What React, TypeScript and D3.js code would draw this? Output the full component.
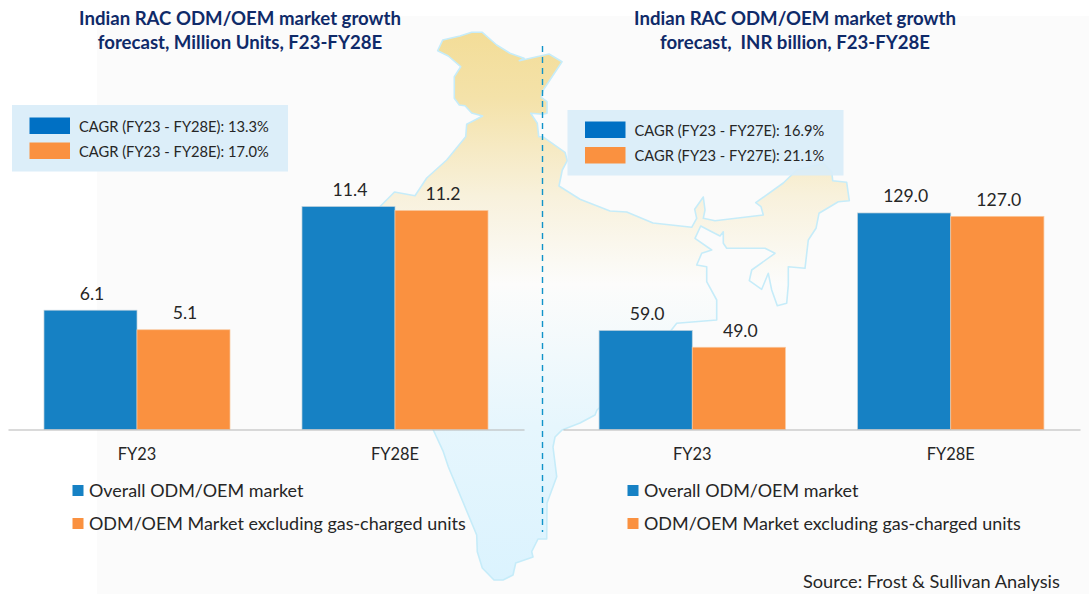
import React, { useEffect, useRef } from "react";
import * as d3 from "d3";

const WIDTH = 1089;
const HEIGHT = 594;
const BASELINE = 429.5;

const categories = ["FY23", "FY28E"];
const seriesNames = ["Overall ODM/OEM market", "ODM/OEM Market excluding gas-charged units"];
const seriesColors = ["#1681c4", "#fa9140"];
const cagrColors = ["#0070c4", "#fa9140"];

const unitsOverall = [6.1, 11.4];
const unitsExGas = [5.1, 11.2];
const inrOverall = [59.0, 129.0];
const inrExGas = [49.0, 127.0];

const unitsCagr = ["CAGR (FY23 - FY28E): 13.3%", "CAGR (FY23 - FY28E): 17.0%"];
const inrCagr = ["CAGR (FY23 - FY27E): 16.9%", "CAGR (FY23 - FY27E): 21.1%"];

const unitsTitle = ["Indian RAC ODM/OEM market growth", "forecast, Million Units, F23-FY28E"];
const inrTitle = ["Indian RAC ODM/OEM market growth", "forecast,  INR billion, F23-FY28E"];

// outline of the background map
const mapOutline: [number, number][] = [
  [437.7, 50.7], [442.7, 40], [460, 36], [471.7, 32.3], [482.3, 32.3], [496.7, 45], [510, 53.3], [524, 58.3],
  [519.3, 60.7], [549, 54], [562, 61.7], [543.3, 90], [541.3, 97.3], [547, 101.7], [547, 113.3], [542.7, 114.3],
  [530.7, 113.3], [537.3, 123.3], [538.7, 136.7], [542.7, 136.7], [565, 152.3], [567.3, 160.7], [562.3, 170],
  [559, 186], [580, 199.3], [610, 211], [626.7, 212], [653, 223], [691.7, 227.3], [696.7, 218.3], [694.7, 209.3],
  [703.3, 197], [705, 210], [703.3, 218.3], [715, 220.7], [763.3, 215], [761, 206.7], [755.7, 202.7], [783.3, 183],
  [796.7, 170], [810, 166.7], [823.3, 163.3], [831.7, 171.7], [832.7, 180.7], [846.7, 182.3], [849.3, 200.7],
  [838.3, 201.7], [819, 213.3], [816, 228.3], [808.3, 240], [805, 268.3], [788.3, 266.7], [788.3, 285], [786.7, 303.3],
  [777.3, 305.7], [771.7, 290], [768.3, 273.3], [761.7, 289.3], [749.3, 280.7], [751.7, 270], [775, 253.3],
  [765, 248.3], [726.7, 248.3], [723.3, 243.3], [723.3, 231.7], [720, 236], [711.7, 231.7], [700.7, 226], [695, 238.3],
  [711.7, 250], [701.7, 253.3], [696.7, 265], [706.7, 266.7], [706.7, 281.7], [716.7, 300], [716.7, 320], [676.7, 323.3],
  [640, 370], [597, 410], [595, 415], [580, 423], [562, 430], [555, 437], [553, 447], [556.7, 476.7], [547, 503],
  [546.7, 539], [538, 539], [531.7, 551.7], [533, 557], [515.7, 563], [513, 575], [503, 580], [494, 580], [482.3, 568],
  [477.3, 551.7], [476.7, 535], [448.3, 466.7], [443.3, 451.7], [433.3, 430], [410, 380], [395, 320], [360, 240],
  [380.6, 206], [394.5, 192], [415, 195.7], [426.7, 178], [446.7, 160], [465.7, 136.7], [466.7, 124.3], [482.7, 116],
  [471.7, 113], [465, 105.7], [459.3, 105], [454.3, 98.3], [454.3, 76.7], [460.7, 66.7], [448.3, 56],
];

const FONT = "Lato, 'Open Sans', sans-serif";

const App = () => {
  const ref = useRef<SVGSVGElement>(null);

  useEffect(() => {
    const svg = d3.select(ref.current);
    svg.selectAll("*").remove();

    const defs = svg.append("defs");
    const grad = defs.append("linearGradient")
      .attr("id", "mapFill")
      .attr("gradientUnits", "userSpaceOnUse")
      .attr("x1", 0).attr("x2", 0).attr("y1", 32).attr("y2", 580);
    [[0, "#f3dd98"], [0.12, "#f4e2a9"], [0.3, "#f8f1dc"], [0.46, "#fcfcfb"], [0.72, "#e6f6fd"], [1, "#dbf3fe"]]
      .forEach(([o, c]) => grad.append("stop").attr("offset", o as number).attr("stop-color", c as string));

    svg.append("rect").attr("width", WIDTH).attr("height", HEIGHT).attr("fill", "#ffffff");
    svg.append("rect")
      .attr("x", 97).attr("y", 16).attr("width", WIDTH - 97).attr("height", HEIGHT - 16)
      .attr("fill", "#fbfbfb");

    svg.append("path")
      .attr("d", d3.line().curve(d3.curveLinearClosed)(mapOutline))
      .attr("fill", "url(#mapFill)")
      .attr("stroke", "#c6ecf9")
      .attr("stroke-width", 1.6)
      .attr("stroke-linejoin", "round");

    svg.append("line")
      .attr("x1", 542.5).attr("x2", 542.5).attr("y1", 46).attr("y2", 532)
      .attr("stroke", "#1093c9")
      .attr("stroke-width", 1.4)
      .attr("stroke-dasharray", "6 5");

    const drawPanel = (opts: any) => {
      const { left, right, values, maxValue, maxHeight, titles, titleX, cagr, boxX, boxY, boxH, swatchYs, fmt } = opts;
      const g = svg.append("g");

      const x = d3.scaleBand().domain(categories).range([left, right]).paddingInner(0.279).paddingOuter(0.1395);
      const inner = d3.scaleBand().domain(seriesNames).range([0, x.bandwidth()]);
      const y = d3.scaleLinear().domain([0, maxValue]).range([BASELINE, BASELINE - maxHeight]);

      // titles
      g.selectAll(".title").data(titles).enter().append("text")
        .attr("x", titleX)
        .attr("y", (d, i) => 25 + i * 24)
        .attr("text-anchor", "middle")
        .attr("font-family", FONT)
        .attr("font-weight", 700)
        .attr("font-size", 18.6)
        .attr("fill", "#0f2a69")
        .style("white-space", "pre")
        .text((d: any) => d);

      // CAGR box
      g.append("rect")
        .attr("x", boxX).attr("y", boxY).attr("width", 276).attr("height", boxH)
        .attr("fill", "#d9edf9").attr("fill-opacity", 0.92);
      cagr.forEach((t: string, i: number) => {
        g.append("rect")
          .attr("x", boxX + 17.5).attr("y", swatchYs[i]).attr("width", 40.5).attr("height", 16.5)
          .attr("fill", cagrColors[i]);
        g.append("text")
          .attr("x", boxX + 67).attr("y", swatchYs[i] + 14)
          .attr("font-family", FONT).attr("font-size", 14.7).attr("fill", "#262626")
          .text(t);
      });

      // bars
      seriesNames.forEach((name, s) => {
        g.selectAll(".bar" + s).data(values[s]).enter().append("rect")
          .attr("x", (d, i) => x(categories[i])! + inner(name)!)
          .attr("y", (d: any) => y(d))
          .attr("width", inner.bandwidth())
          .attr("height", (d: any) => BASELINE - y(d))
          .attr("fill", seriesColors[s])
          .attr("stroke", s === 0 ? "#bcd0dc" : "#f9c9a0")
          .attr("stroke-width", 0.7);

        g.selectAll(".lab" + s).data(values[s]).enter().append("text")
          .attr("x", (d, i) => x(categories[i])! + inner(name)! + inner.bandwidth() / 2 + 1.5)
          .attr("y", (d: any) => y(d) - 10.5)
          .attr("text-anchor", "middle")
          .attr("font-family", FONT).attr("font-size", 17.6).attr("fill", "#262626")
          .text((d: any) => fmt(d));
      });

      // category axis
      const axis = g.append("g")
        .attr("transform", `translate(0,${BASELINE})`)
        .call(d3.axisBottom(x).tickSize(0).tickSizeOuter(0).tickPadding(19));
      axis.select(".domain").attr("stroke", "#b5b5b5").attr("stroke-width", 1.2);
      axis.selectAll("text")
        .attr("font-family", FONT).attr("font-size", 16.4).attr("fill", "#262626");

      // legend
      seriesNames.forEach((name, i) => {
        g.append("rect")
          .attr("x", left + 64.5).attr("y", 485 + i * 33).attr("width", 11).attr("height", 11)
          .attr("fill", seriesColors[i]);
        g.append("text")
          .attr("x", left + 81).attr("y", 496.5 + i * 33)
          .attr("font-family", FONT).attr("font-size", 17.95).attr("fill", "#262626")
          .text(name);
      });
    };

    drawPanel({
      left: 8, right: 524,
      values: [unitsOverall, unitsExGas],
      maxValue: 12, maxHeight: 234.7,
      titles: unitsTitle, titleX: 240,
      cagr: unitsCagr, boxX: 12, boxY: 105, boxH: 66.5, swatchYs: [117.5, 142.5],
      fmt: d3.format(".1f"),
    });
    drawPanel({
      left: 563, right: 1080,
      values: [inrOverall, inrExGas],
      maxValue: 140, maxHeight: 235,
      titles: inrTitle, titleX: 795,
      cagr: inrCagr, boxX: 567.5, boxY: 110, boxH: 65.5, swatchYs: [121.5, 147],
      fmt: d3.format(".1f"),
    });

    svg.append("text")
      .attr("x", 803).attr("y", 588)
      .attr("font-family", FONT).attr("font-size", 18.2).attr("fill", "#262626")
      .text("Source: Frost & Sullivan Analysis");
  }, []);

  return (
    <svg
      ref={ref}
      width={WIDTH}
      height={HEIGHT}
      style={{ position: "absolute", left: 0, top: 0, display: "block" }}
    />
  );
};

export default App;
